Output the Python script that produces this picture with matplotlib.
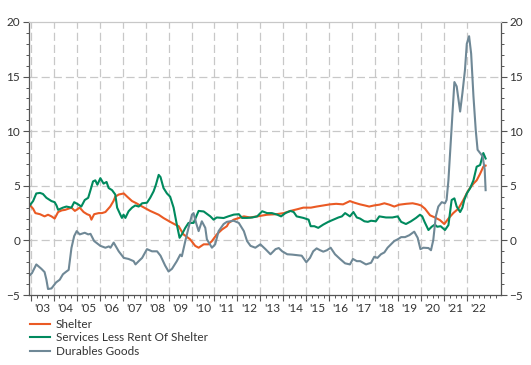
import matplotlib.pyplot as plt
from matplotlib.ticker import MultipleLocator
from matplotlib.transforms import blended_transform_factory

# decimal year, value (% y/y)
shelter_t = [2002.95, 2003.1, 2003.2, 2003.4, 2003.6, 2003.75, 2003.9, 2004.04, 2004.19, 2004.35,
             2004.5, 2004.77, 2004.92, 2005.13, 2005.3, 2005.45, 2005.57, 2005.64, 2005.76, 2005.96,
             2006.1, 2006.25, 2006.46, 2006.6, 2006.68, 2006.83, 2007.05, 2007.2, 2007.41, 2007.6,
             2007.85, 2008.2, 2008.57, 2008.78, 2009.07, 2009.29, 2009.44, 2009.55, 2009.65, 2009.94,
             2010.16, 2010.31, 2010.53, 2010.74, 2010.89, 2011.1, 2011.33, 2011.54, 2011.62, 2011.84,
             2012.28, 2012.55, 2012.86, 2013.29, 2013.7, 2014.02, 2014.31, 2014.6, 2014.87, 2015.2,
             2015.45, 2015.74, 2016.03, 2016.3, 2016.6, 2016.9, 2017.1, 2017.34, 2017.55, 2017.74,
             2017.95, 2018.18, 2018.4, 2018.62, 2018.83, 2019.05, 2019.35, 2019.63, 2019.85, 2020.0,
             2020.17, 2020.39, 2020.6, 2020.82, 2021.01, 2021.19, 2021.4, 2021.62, 2021.84, 2022.06,
             2022.28, 2022.42, 2022.57, 2022.71, 2022.81]
shelter_v = [3.25, 2.9, 2.5, 2.4, 2.2, 2.35, 2.2, 2.0, 2.6, 2.75,
             2.8, 3.0, 2.7, 3.0, 2.6, 2.4, 2.3, 1.9, 2.4, 2.5,
             2.5, 2.6, 3.1, 3.6, 4.0, 4.2, 4.3, 4.0, 3.6, 3.4,
             3.1, 2.7, 2.35, 2.05, 1.7, 1.45, 1.3, 0.9, 0.55, 0.1,
             -0.5, -0.67, -0.36, -0.36, -0.06, 0.55, 1.0, 1.3, 1.6, 1.9,
             2.2, 2.1, 2.2, 2.35, 2.4, 2.5, 2.7, 2.85, 3.0, 3.0,
             3.1, 3.2, 3.3, 3.35, 3.3, 3.6, 3.45, 3.3, 3.2, 3.1,
             3.2, 3.27, 3.4, 3.27, 3.1, 3.27, 3.35, 3.4, 3.3, 3.2,
             2.9, 2.3, 2.1, 1.86, 1.5, 2.0, 2.5, 2.9, 3.7, 4.6,
             5.2, 5.5, 6.1, 6.75, 6.85]

services_t = [2002.95, 2003.1, 2003.24, 2003.4, 2003.53, 2003.68, 2003.9, 2004.04, 2004.12, 2004.19,
              2004.4, 2004.55, 2004.77, 2004.89, 2005.06, 2005.2, 2005.35, 2005.5, 2005.6, 2005.71,
              2005.81, 2005.9, 2006.03, 2006.17, 2006.3, 2006.39, 2006.54, 2006.68, 2006.76, 2006.9,
              2006.97, 2007.04, 2007.12, 2007.26, 2007.41, 2007.55, 2007.7, 2007.85, 2008.06, 2008.2,
              2008.35, 2008.45, 2008.57, 2008.65, 2008.78, 2008.93, 2009.07, 2009.22, 2009.36, 2009.48,
              2009.58, 2009.73, 2009.87, 2010.09, 2010.24, 2010.31, 2010.53, 2010.82, 2010.96, 2011.1,
              2011.4, 2011.6, 2011.84, 2012.06, 2012.2, 2012.42, 2012.65, 2012.86, 2013.08, 2013.29,
              2013.5, 2013.73, 2013.9, 2014.09, 2014.31, 2014.45, 2014.58, 2014.87, 2015.1, 2015.19,
              2015.35, 2015.52, 2015.74, 2015.96, 2016.18, 2016.4, 2016.55, 2016.69, 2016.9, 2017.05,
              2017.2, 2017.34, 2017.53, 2017.68, 2017.82, 2018.03, 2018.18, 2018.47, 2018.75, 2018.98,
              2019.13, 2019.34, 2019.56, 2019.78, 2019.95, 2020.05, 2020.15, 2020.32, 2020.46, 2020.6,
              2020.7, 2020.85, 2021.04, 2021.19, 2021.33, 2021.45, 2021.55, 2021.7, 2021.8, 2021.88,
              2021.99, 2022.13, 2022.28, 2022.42, 2022.57, 2022.71, 2022.81]
services_v = [3.2, 3.6, 4.3, 4.35, 4.25, 3.9, 3.6, 3.5, 3.2, 2.8,
              3.0, 3.1, 3.0, 3.5, 3.3, 3.1, 3.7, 3.9, 4.6, 5.4,
              5.5, 5.1, 5.7, 5.2, 5.35, 4.8, 4.6, 4.2, 3.0, 2.36,
              2.06, 2.36, 2.06, 2.67, 3.0, 3.2, 3.1, 3.4, 3.45, 3.9,
              4.5, 5.1, 6.0, 5.8, 4.8, 4.3, 4.0, 3.0, 1.45, 0.24,
              0.55, 1.15, 1.6, 1.6, 2.36, 2.7, 2.65, 2.2, 1.9, 2.1,
              2.05, 2.2, 2.36, 2.4, 2.06, 2.06, 2.1, 2.2, 2.67, 2.5,
              2.5, 2.36, 2.2, 2.5, 2.7, 2.6, 2.2, 2.06, 1.9, 1.3,
              1.3, 1.15, 1.45, 1.7, 1.9, 2.1, 2.2, 2.5, 2.2, 2.6,
              2.1, 2.0, 1.75, 1.7, 1.8, 1.75, 2.2, 2.1, 2.1, 2.2,
              1.7, 1.5, 1.75, 2.06, 2.35, 2.2, 1.7, 0.95, 1.25, 1.45,
              1.25, 1.3, 0.95, 1.4, 3.7, 3.85, 3.1, 2.6, 3.0, 3.7,
              4.3, 4.76, 5.5, 6.75, 6.9, 8.0, 7.5]

durables_t = [2002.95, 2003.05, 2003.24, 2003.35, 2003.46, 2003.6, 2003.68, 2003.75, 2003.9, 2004.1,
              2004.26, 2004.4, 2004.55, 2004.65, 2004.77, 2004.89, 2005.0, 2005.13, 2005.35, 2005.5,
              2005.6, 2005.76, 2006.03, 2006.25, 2006.4, 2006.47, 2006.61, 2006.83, 2007.05, 2007.26,
              2007.48, 2007.56, 2007.7, 2007.85, 2008.06, 2008.28, 2008.5, 2008.65, 2008.85, 2009.0,
              2009.15, 2009.36, 2009.51, 2009.58, 2009.73, 2009.87, 2010.02, 2010.09, 2010.2, 2010.31,
              2010.45, 2010.6, 2010.67, 2010.89, 2011.03, 2011.18, 2011.4, 2011.54, 2011.84, 2012.06,
              2012.28, 2012.42, 2012.57, 2012.78, 2013.0, 2013.22, 2013.44, 2013.66, 2013.8, 2013.95,
              2014.17, 2014.38, 2014.6, 2014.8, 2015.0, 2015.16, 2015.3, 2015.45, 2015.6, 2015.74,
              2015.9, 2016.06, 2016.25, 2016.47, 2016.69, 2016.9, 2017.03, 2017.2, 2017.35, 2017.6,
              2017.82, 2017.96, 2018.1, 2018.25, 2018.4, 2018.54, 2018.69, 2018.83, 2018.98, 2019.13,
              2019.3, 2019.49, 2019.7, 2019.85, 2019.97, 2020.1, 2020.32, 2020.43, 2020.53, 2020.64,
              2020.75, 2020.9, 2021.04, 2021.11, 2021.19, 2021.33, 2021.45, 2021.55, 2021.7, 2021.8,
              2021.91, 2021.99, 2022.09, 2022.18, 2022.28, 2022.38, 2022.46, 2022.57, 2022.68, 2022.77,
              2022.81]
durables_v = [-3.2, -3.0, -2.2, -2.4, -2.6, -2.9, -3.6, -4.45, -4.4, -3.85,
              -3.6, -3.1, -2.85, -2.7, -0.7, 0.4, 0.85, 0.55, 0.7, 0.55,
              0.6, -0.06, -0.5, -0.67, -0.55, -0.67, -0.2, -1.0, -1.6, -1.7,
              -1.9, -2.2, -1.9, -1.6, -0.8, -1.0, -1.0, -1.4, -2.3, -2.85,
              -2.6, -1.9, -1.3, -1.45, -0.06, 1.15, 2.36, 2.5, 1.6, 0.85,
              1.75, 1.15, 0.1, -0.67, -0.36, 0.85, 1.5, 1.7, 1.8, 1.6,
              0.85, -0.06, -0.5, -0.67, -0.36, -0.8, -1.27, -0.8, -0.7, -1.0,
              -1.27, -1.3, -1.35, -1.4, -2.0, -1.6, -1.0, -0.73, -0.9, -1.03,
              -0.9, -0.67, -1.27, -1.7, -2.1, -2.2, -1.7, -1.9, -1.9, -2.2,
              -2.05, -1.5, -1.6, -1.27, -1.1, -0.67, -0.36, -0.06, 0.1, 0.3,
              0.3, 0.48, 0.8, 0.24, -0.8, -0.67, -0.7, -0.9, 0.03, 2.2,
              3.1, 3.5, 3.4, 3.7, 5.5, 10.4, 14.5, 14.1, 11.8, 13.5,
              15.6, 18.0, 18.7, 17.1, 13.2, 10.1, 8.3, 8.0, 7.7, 6.5,
              4.6]

years = list(range(2003, 2023))
year_labels = ["'%02d" % (y % 100) for y in years]
series_names = ['Shelter', 'Services Less Rent Of Shelter', 'Durables Goods']
colors = ['#EA5A24', '#008A5E', '#6F8896']

plt.rcParams['font.family'] = ['Lato', 'DejaVu Sans']
fig = plt.figure(figsize=(5.31, 3.65), dpi=100)
W, H = 531, 365
ax = fig.add_axes([28.5 / W, 1 - 295 / H, (501 - 28.5) / W, (295 - 22) / H])

ax.plot(shelter_t, shelter_v, color=colors[0], lw=1.5, label=series_names[0])
ax.plot(services_t, services_v, color=colors[1], lw=1.5, label=series_names[1])
ax.plot(durables_t, durables_v, color=colors[2], lw=1.5, label=series_names[2])

ax.set_xlim(2002.9, 2023.48)
ax.set_ylim(-5, 20)

grid_kw = dict(color='#c8c8c8', lw=0.9, ls=(0, (6.5, 3.2)), zorder=0)
for y in years:
    ax.axvline(y, **grid_kw)
for v in [0, 5, 10, 15]:
    ax.axhline(v, **grid_kw)

for s in ['left', 'right', 'bottom']:
    ax.spines[s].set_color('#555555')
    ax.spines[s].set_linewidth(0.9)
ax.spines['top'].set_color('#c8c8c8')
ax.spines['top'].set_linewidth(0.9)

ax.set_xticks(years)
ax.set_xticklabels([])
ax.xaxis.set_minor_locator(MultipleLocator(0.25))
ax.tick_params(axis='x', which='major', length=4, color='#555555', width=0.8)
ax.tick_params(axis='x', which='minor', length=2.5, color='#555555', width=0.7)

trans = blended_transform_factory(ax.transData, ax.transAxes)
for y, lab in zip(years, year_labels):
    ax.text(y + 0.5, -0.028, lab, transform=trans, ha='center', va='top',
            fontsize=8.5, color='#333333')

ax.set_yticks([-5, 0, 5, 10, 15, 20])
ax.yaxis.set_minor_locator(MultipleLocator(1))
ax.tick_params(axis='y', which='both', left=True, right=True, labelleft=True,
               labelright=True, color='#555555', labelsize=8.5, labelcolor='#333333')
ax.tick_params(axis='y', which='major', length=4, width=0.8, pad=2)
ax.tick_params(axis='y', which='minor', length=2.5, width=0.7)

fig.legend(loc='upper left', bbox_to_anchor=(30 / W, 1 - 319 / H), frameon=False,
           fontsize=8.5, handlelength=1.7, handletextpad=0.5, labelspacing=0.2,
           borderpad=0, borderaxespad=0, labelcolor='#333333')

fig.savefig('out.png', dpi=100)
